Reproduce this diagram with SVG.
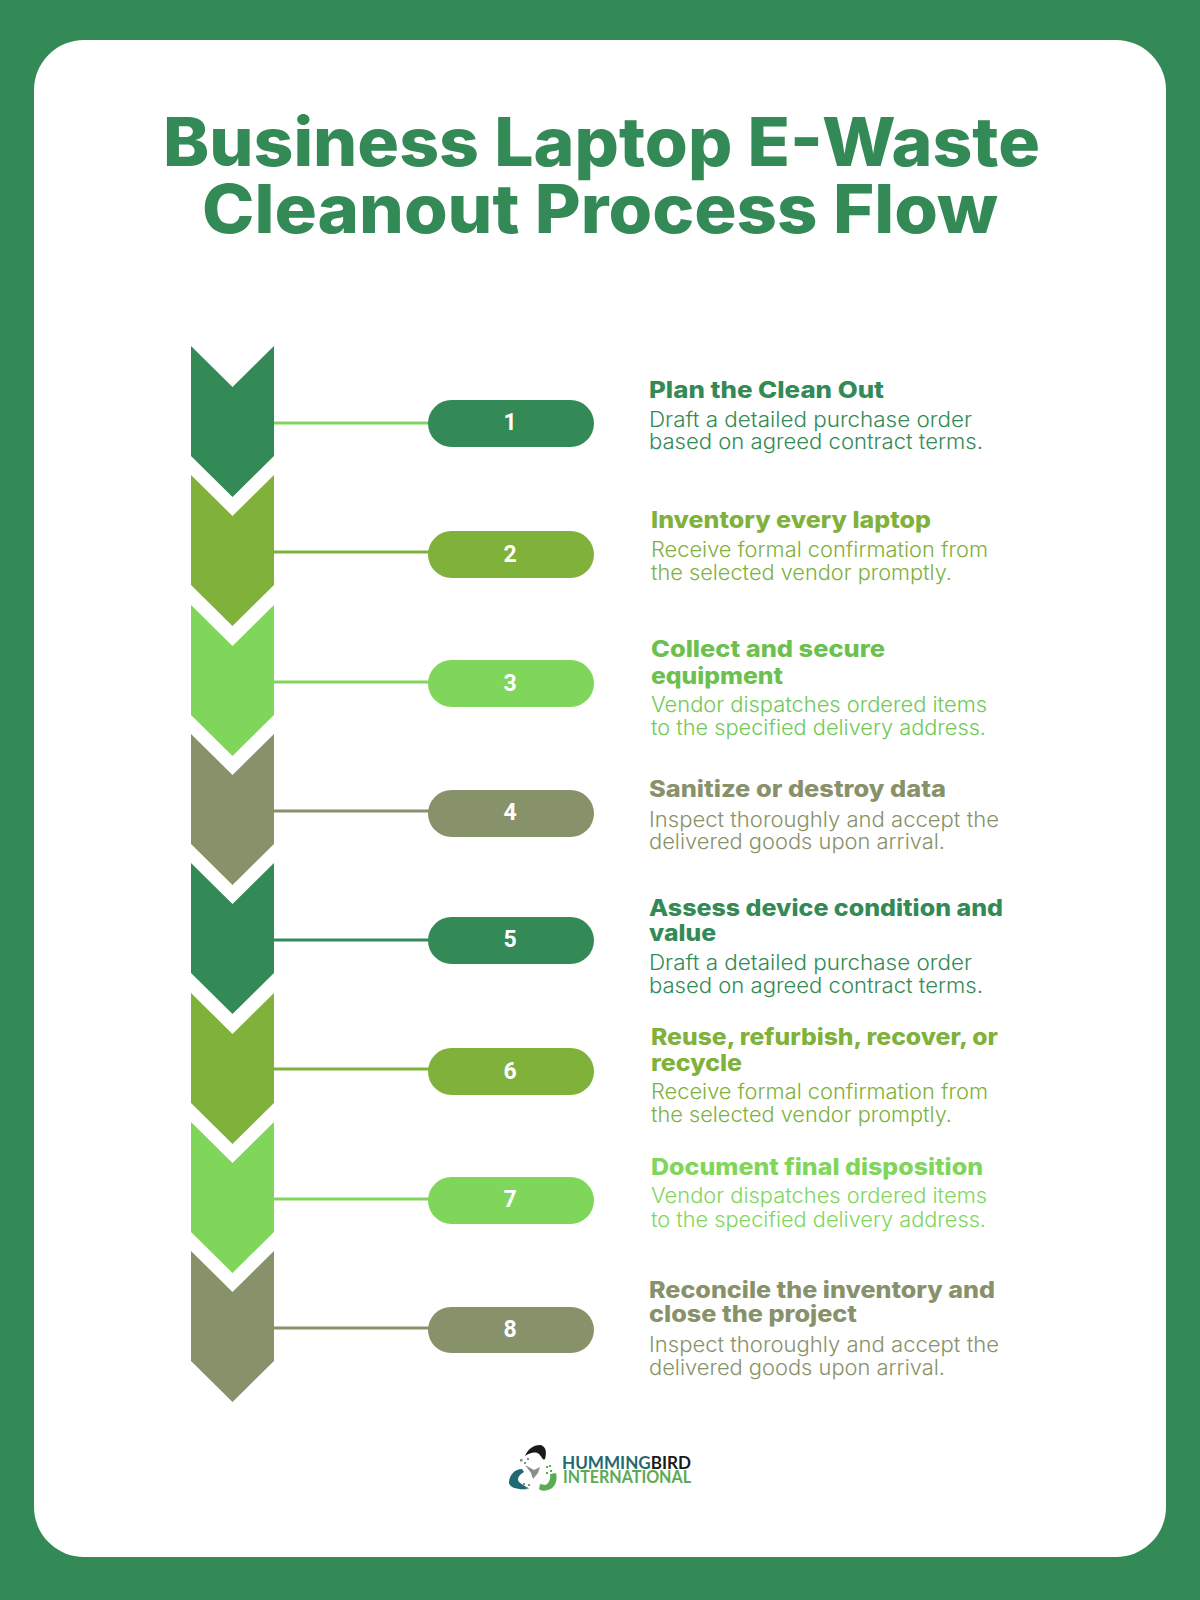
<svg xmlns="http://www.w3.org/2000/svg" width="1200" height="1600" viewBox="0 0 1200 1600">
<style>
.title{font-family:"Inter",sans-serif;font-weight:800;font-size:67px;fill:#338a56}
.h{font-family:"Inter",sans-serif;font-weight:800;font-size:22.5px}
.b{font-family:"Inter",sans-serif;font-weight:300;font-size:21px}
.n{font-family:"Roboto",sans-serif;font-weight:700;font-size:23px;fill:#fff;text-anchor:middle}
.c1{fill:#338a56}.c2{fill:#80b13a}.c3{fill:#80d65b}.c4{fill:#88926a}
.t3h{fill:#6cc04f}.t3b{fill:#70c955}
.ln{stroke-width:3;fill:none}
.s1{stroke:#338a56}.s2{stroke:#80b13a}.s3{stroke:#80d65b}.s4{stroke:#88926a}
</style>
<defs>
<path id="chev" d="M0 0L41.500 41L83 0V110L41.500 151L0 110Z"/>
</defs>
<rect width="1200" height="1600" fill="#338a56"/>
<rect x="34" y="40" width="1132" height="1517" rx="50" fill="#fff"/>
<g id="title">
<text class="title" x="163" y="166" textLength="877" lengthAdjust="spacingAndGlyphs">Business Laptop E-Waste</text>
<text class="title" x="202" y="233" textLength="796" lengthAdjust="spacingAndGlyphs">Cleanout Process Flow</text>
</g>
<g id="connectors">
<path class="ln s3" d="M274 423H430"/>
<path class="ln s2" d="M274 552H430"/>
<path class="ln s3" d="M274 682H430"/>
<path class="ln s4" d="M274 811H430"/>
<path class="ln s1" d="M274 940H430"/>
<path class="ln s2" d="M274 1069H430"/>
<path class="ln s3" d="M274 1199H430"/>
<path class="ln s4" d="M274 1328H430"/>
</g>
<g id="step1">
<use href="#chev" x="191" y="346" class="c1"/>
<rect x="428" y="400" width="166" height="47" rx="23.500" class="c1"/>
<text class="n" x="510" y="430">1</text>
<text class="h c1" x="649" y="398" textLength="235" lengthAdjust="spacingAndGlyphs">Plan the Clean Out</text>
<text class="b c1" x="649" y="427" textLength="323" lengthAdjust="spacingAndGlyphs">Draft a detailed purchase order</text>
<text class="b c1" x="649" y="449" textLength="334" lengthAdjust="spacingAndGlyphs">based on agreed contract terms.</text>
</g>
<g id="step2">
<use href="#chev" x="191" y="475" class="c2"/>
<rect x="428" y="531" width="166" height="47" rx="23.500" class="c2"/>
<text class="n" x="510" y="562">2</text>
<text class="h c2" x="651" y="528" textLength="280" lengthAdjust="spacingAndGlyphs">Inventory every laptop</text>
<text class="b c2" x="651" y="557" textLength="337" lengthAdjust="spacingAndGlyphs">Receive formal confirmation from</text>
<text class="b c2" x="651" y="580" textLength="301" lengthAdjust="spacingAndGlyphs">the selected vendor promptly.</text>
</g>
<g id="step3">
<use href="#chev" x="191" y="605" class="c3"/>
<rect x="428" y="660" width="166" height="47" rx="23.500" class="c3"/>
<text class="n" x="510" y="691">3</text>
<text class="h t3h" x="651" y="657" textLength="234" lengthAdjust="spacingAndGlyphs">Collect and secure</text>
<text class="h t3h" x="651" y="684" textLength="132" lengthAdjust="spacingAndGlyphs">equipment</text>
<text class="b t3b" x="651" y="712" textLength="336" lengthAdjust="spacingAndGlyphs">Vendor dispatches ordered items</text>
<text class="b t3b" x="651" y="735" textLength="335" lengthAdjust="spacingAndGlyphs">to the specified delivery address.</text>
</g>
<g id="step4">
<use href="#chev" x="191" y="734" class="c4"/>
<rect x="428" y="790" width="166" height="47" rx="23.500" class="c4"/>
<text class="n" x="510" y="820">4</text>
<text class="h c4" x="649" y="797" textLength="297" lengthAdjust="spacingAndGlyphs">Sanitize or destroy data</text>
<text class="b c4" x="649" y="827" textLength="350" lengthAdjust="spacingAndGlyphs">Inspect thoroughly and accept the</text>
<text class="b c4" x="649" y="849" textLength="296" lengthAdjust="spacingAndGlyphs">delivered goods upon arrival.</text>
</g>
<g id="step5">
<use href="#chev" x="191" y="863" class="c1"/>
<rect x="428" y="917" width="166" height="47" rx="23.500" class="c1"/>
<text class="n" x="510" y="947">5</text>
<text class="h c1" x="649" y="916" textLength="354" lengthAdjust="spacingAndGlyphs">Assess device condition and</text>
<text class="h c1" x="649" y="941" textLength="67" lengthAdjust="spacingAndGlyphs">value</text>
<text class="b c1" x="649" y="970" textLength="323" lengthAdjust="spacingAndGlyphs">Draft a detailed purchase order</text>
<text class="b c1" x="649" y="993" textLength="334" lengthAdjust="spacingAndGlyphs">based on agreed contract terms.</text>
</g>
<g id="step6">
<use href="#chev" x="191" y="993" class="c2"/>
<rect x="428" y="1048" width="166" height="47" rx="23.500" class="c2"/>
<text class="n" x="510" y="1079">6</text>
<text class="h c2" x="651" y="1045" textLength="347" lengthAdjust="spacingAndGlyphs">Reuse, refurbish, recover, or</text>
<text class="h c2" x="651" y="1071" textLength="91" lengthAdjust="spacingAndGlyphs">recycle</text>
<text class="b c2" x="651" y="1099" textLength="337" lengthAdjust="spacingAndGlyphs">Receive formal confirmation from</text>
<text class="b c2" x="651" y="1122" textLength="301" lengthAdjust="spacingAndGlyphs">the selected vendor promptly.</text>
</g>
<g id="step7">
<use href="#chev" x="191" y="1122" class="c3"/>
<rect x="428" y="1177" width="166" height="47" rx="23.500" class="c3"/>
<text class="n" x="510" y="1207">7</text>
<text class="h c3" x="651" y="1175" textLength="332" lengthAdjust="spacingAndGlyphs">Document final disposition</text>
<text class="b c3" x="651" y="1203" textLength="336" lengthAdjust="spacingAndGlyphs">Vendor dispatches ordered items</text>
<text class="b c3" x="651" y="1227" textLength="335" lengthAdjust="spacingAndGlyphs">to the specified delivery address.</text>
</g>
<g id="step8">
<use href="#chev" x="191" y="1251" class="c4"/>
<rect x="428" y="1307" width="166" height="46" rx="23" class="c4"/>
<text class="n" x="510" y="1337">8</text>
<text class="h c4" x="649" y="1298" textLength="346" lengthAdjust="spacingAndGlyphs">Reconcile the inventory and</text>
<text class="h c4" x="649" y="1322" textLength="208" lengthAdjust="spacingAndGlyphs">close the project</text>
<text class="b c4" x="649" y="1352" textLength="350" lengthAdjust="spacingAndGlyphs">Inspect thoroughly and accept the</text>
<text class="b c4" x="649" y="1375" textLength="296" lengthAdjust="spacingAndGlyphs">delivered goods upon arrival.</text>
</g>
<g id="logo">
<path fill="#1a1a1a" d="M525 1456C528 1449 533 1445 540 1445C546 1446 547 1452 545 1459C543 1461 542 1457 539 1454C535 1451 530 1453 525 1456Z"/>
<path fill="#1f6a72" d="M522 1469C514 1469 509 1476 509 1483C510 1488 518 1490 529 1489C525 1485 519 1484 518 1480C518 1476 521 1474 524 1472Z"/>
<path fill="#5aab52" d="M556 1473C558 1481 555 1488 548 1490C544 1491 541 1491 539 1489L540 1484L545 1485C549 1484 551 1478 550 1474Z"/>
<path fill="#8a8f8c" d="M525 1465L534 1470L540 1467L538 1473L533 1479L531 1473Z"/>
<g fill="#8a8f8c"><rect x="520" y="1459" width="2.500" height="2.500"/><rect x="524" y="1462" width="2" height="2"/><rect x="527" y="1458" width="2" height="2"/><rect x="523" y="1483" width="2" height="2"/><rect x="528" y="1484" width="2" height="2"/><rect x="526" y="1487" width="2" height="2"/></g>
<g fill="#5aab52"><rect x="546" y="1466" width="2" height="2"/><rect x="550" y="1470" width="2" height="2"/><rect x="546" y="1472" width="2" height="2"/><rect x="549" y="1465" width="2" height="2"/></g>
<text x="562" y="1469" font-family="Lato,sans-serif" font-weight="700" font-size="16.500" textLength="129" lengthAdjust="spacingAndGlyphs"><tspan fill="#1f6a72">HUMMING</tspan><tspan fill="#1a1a1a">BIRD</tspan></text>
<text x="563" y="1483" font-family="Lato,sans-serif" font-weight="700" font-size="16.500" fill="#5aab52" textLength="128" lengthAdjust="spacingAndGlyphs">INTERNATIONAL</text>
</g>
</svg>
